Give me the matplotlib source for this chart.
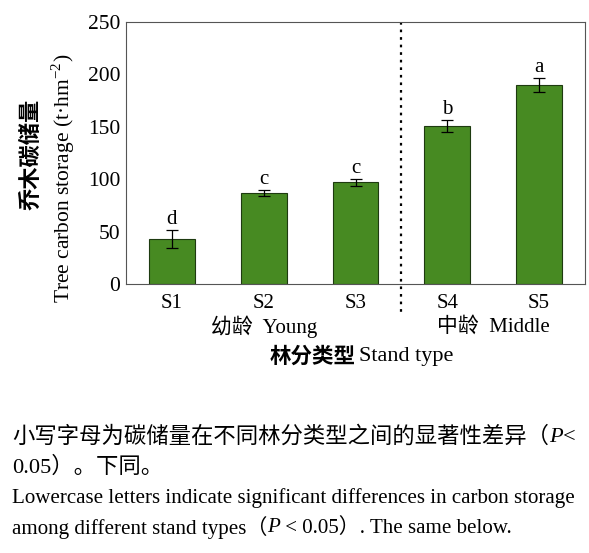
import matplotlib.pyplot as plt
import matplotlib.transforms as mtransforms

plt.rcParams["font.family"] = ["Liberation Serif", "Noto Sans CJK SC"]
plt.rcParams["mathtext.fontset"] = "stix"

# data
stands = ["S1", "S2", "S3", "S4", "S5"]
storage = [43, 87, 97, 151, 190]
storage_err = [9, 3, 3.5, 5.5, 7]
letters = ["d", "c", "c", "b", "a"]
groups = ["幼龄  Young", "中龄  Middle"]
group_centers = [1.0, 3.5]
divider = 2.5

BAR = "#478a22"
EDGE = "#1e3a10"
W, H = 589, 553

fig = plt.figure(figsize=(W / 100, H / 100), dpi=100)
ax = fig.add_axes([126 / W, 1 - 284 / H, 459 / W, 262 / H])

x = range(len(stands))
ax.bar(x, storage, width=0.5, color=BAR, edgecolor=EDGE, linewidth=0.8, zorder=2)
ax.errorbar(x, storage, yerr=storage_err, fmt="none", ecolor="black",
            elinewidth=0.9, capsize=4.5, capthick=0.9, zorder=3)
for xi, v, e, lab in zip(x, storage, storage_err, letters):
    ax.annotate(lab, (xi, v + e), xytext=(0, 4), textcoords="offset points",
                ha="center", va="baseline", fontsize=15)

ax.set_xlim(-0.5, 4.5)
ax.set_ylim(0, 250)
ax.set_yticks(range(0, 251, 50))
ax.set_xticks(list(x))
ax.set_xticklabels(stands, fontsize=15)
ax.tick_params(axis="y", labelsize=15.5, length=0, pad=4)
ax.tick_params(axis="x", length=0, pad=7)
for sp in ax.spines.values():
    sp.set_color("#555555")
    sp.set_linewidth(0.8)

ax.plot([divider, divider], [250, -28], ls=(0, (1.2, 2.2)), color="black",
        lw=1.6, clip_on=False)

trans = mtransforms.blended_transform_factory(ax.transData, ax.transAxes)
for gx, g in zip(group_centers, groups):
    ax.text(gx, -0.165, g, transform=trans, ha="center", va="center", fontsize=15)

# x label: bold Chinese, regular English
fig.text(356 / W, 1 - 357 / H, "林分类型", ha="right", va="center",
         fontsize=15.5, fontweight="bold")
fig.text(359 / W, 1 - 357 / H, "Stand type", ha="left", va="center", fontsize=16)

# y label, two lines
fig.text(32 / W, 1 - 154 / H, "乔木碳储量", rotation=90, ha="center",
         va="center", fontsize=16, fontweight="bold")
fig.text(63 / W, 1 - 178 / H, r"Tree carbon storage (t·hm$^{\mathregular{-2}}$)",
         rotation=90, ha="center", va="center", fontsize=15.5)

# caption, drawn piece by piece so the P can be italic
renderer = fig.canvas.get_renderer()


def line(y_px, parts, size):
    xf = 12 / W
    for txt, style in parts:
        t = fig.text(xf, 1 - y_px / H, txt, ha="left", va="center",
                     fontsize=size, style=style)
        bb = t.get_window_extent(renderer)
        xf += bb.width / W


line(437, [("小写字母为碳储量在不同林分类型之间的显著性差异（", "normal"),
           ("P", "italic"), ("<", "normal")], 16.1)
line(467, [("0.05）。下同。", "normal")], 16.1)
line(498, [("Lowercase letters indicate significant differences in carbon storage",
            "normal")], 15.1)
line(528, [("among different stand types（", "normal"), ("P", "italic"),
           (" < 0.05）. The same below.", "normal")], 15.1)

fig.savefig("out.png", dpi=100)
